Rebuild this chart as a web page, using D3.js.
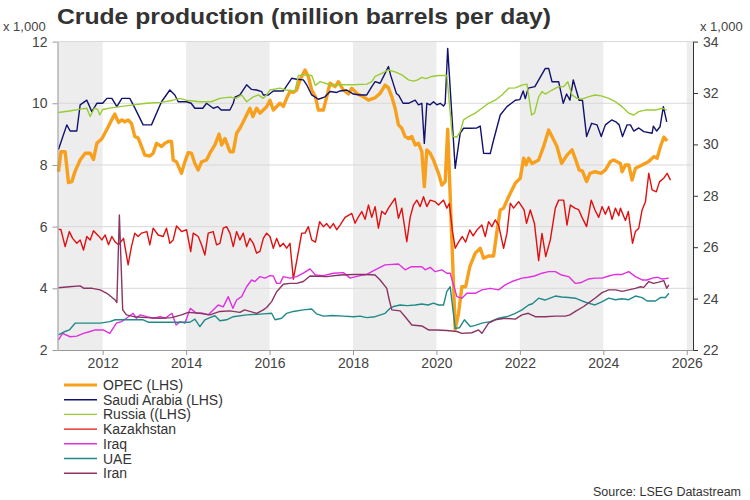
<!DOCTYPE html>
<html><head><meta charset="utf-8">
<script src="https://cdn.jsdelivr.net/npm/d3@7"></script>
<style>body{margin:0;background:#fff;}svg{font-family:"Liberation Sans",Arial,sans-serif;}</style>
</head><body><svg id="chart" width="750" height="500"></svg>
<script>
// ---- data: [decimal year, value (thousand barrels/day, LHS units)] ----
const opec = [[2010.94,7.78],[2011.0,8.43],[2011.1,8.43],[2011.18,7.43],[2011.26,7.46],[2011.34,7.8],[2011.46,8.16],[2011.58,8.38],[2011.7,8.38],[2011.78,8.18],[2011.86,8.7],[2011.98,8.85],[2012.1,9.15],[2012.2,9.42],[2012.29,9.65],[2012.38,9.38],[2012.46,9.46],[2012.53,9.4],[2012.61,9.46],[2012.69,9.35],[2012.77,8.92],[2012.85,8.88],[2012.93,8.6],[2013.01,8.32],[2013.13,8.29],[2013.21,8.38],[2013.29,8.7],[2013.41,8.6],[2013.49,8.7],[2013.57,8.76],[2013.65,8.76],[2013.69,8.16],[2013.77,8.1],[2013.89,7.73],[2013.97,8.1],[2014.05,8.4],[2014.13,8.38],[2014.21,8.05],[2014.29,7.84],[2014.37,8.1],[2014.49,8.16],[2014.57,8.38],[2014.69,8.65],[2014.79,9.0],[2014.85,8.65],[2014.93,8.86],[2015.05,8.43],[2015.13,8.43],[2015.21,9.03],[2015.29,9.19],[2015.37,9.4],[2015.45,9.62],[2015.53,9.84],[2015.6,9.57],[2015.69,9.84],[2015.77,9.68],[2015.85,9.78],[2015.93,9.89],[2016.01,10.1],[2016.09,9.78],[2016.25,10.0],[2016.33,9.9],[2016.41,10.16],[2016.49,10.38],[2016.57,10.35],[2016.65,10.43],[2016.73,10.76],[2016.85,11.08],[2016.93,10.86],[2017.01,10.43],[2017.1,10.21],[2017.17,9.78],[2017.29,9.78],[2017.37,10.21],[2017.45,10.65],[2017.57,10.54],[2017.65,10.7],[2017.77,10.43],[2017.89,10.3],[2017.97,10.49],[2018.09,10.32],[2018.25,10.21],[2018.37,10.1],[2018.53,10.18],[2018.65,10.32],[2018.77,10.59],[2018.85,10.5],[2018.93,10.21],[2019.01,9.84],[2019.09,9.3],[2019.17,9.19],[2019.25,8.92],[2019.33,8.86],[2019.41,8.92],[2019.49,8.65],[2019.57,8.7],[2019.65,8.43],[2019.71,7.3],[2019.77,8.49],[2019.85,8.38],[2019.93,8.16],[2020.05,7.73],[2020.13,7.35],[2020.21,7.46],[2020.27,9.16],[2020.45,2.67],[2020.53,3.19],[2020.61,4.05],[2020.7,4.05],[2020.8,4.7],[2020.93,5.14],[2021.05,5.3],[2021.13,4.98],[2021.25,5.05],[2021.37,5.05],[2021.45,5.84],[2021.53,6.54],[2021.61,6.6],[2021.73,6.97],[2021.89,7.41],[2022.01,7.57],[2022.09,8.22],[2022.15,8.0],[2022.21,8.22],[2022.29,8.05],[2022.37,8.1],[2022.45,8.16],[2022.57,8.6],[2022.69,9.13],[2022.77,8.92],[2022.89,8.6],[2023.0,8.05],[2023.13,8.32],[2023.25,8.49],[2023.33,8.2],[2023.42,7.84],[2023.5,7.8],[2023.6,7.46],[2023.68,7.73],[2023.8,7.78],[2023.95,7.73],[2024.05,7.84],[2024.17,8.11],[2024.25,8.16],[2024.41,8.05],[2024.45,7.78],[2024.53,8.0],[2024.61,8.0],[2024.69,7.51],[2024.77,7.89],[2024.93,8.0],[2025.09,8.11],[2025.21,8.27],[2025.29,8.22],[2025.37,8.6],[2025.45,8.9],[2025.53,8.78]];

const saudi = [[2010.94,8.5],[2011.14,9.3],[2011.22,9.1],[2011.38,9.1],[2011.46,9.95],[2011.62,10.1],[2011.74,9.73],[2011.86,10.0],[2012.0,10.0],[2012.1,10.16],[2012.22,10.16],[2012.34,9.89],[2012.46,10.16],[2012.65,10.16],[2012.77,9.85],[2012.97,9.3],[2013.17,9.3],[2013.41,10.05],[2013.61,10.43],[2013.73,10.27],[2013.81,10.05],[2014.01,10.05],[2014.12,10.0],[2014.21,9.84],[2014.4,9.84],[2014.49,10.0],[2014.65,9.84],[2014.76,9.89],[2014.84,9.78],[2015.05,9.78],[2015.13,10.0],[2015.17,10.2],[2015.29,10.27],[2015.45,10.6],[2015.57,10.45],[2015.69,10.43],[2015.81,10.38],[2015.85,10.27],[2015.97,10.27],[2016.09,10.4],[2016.33,10.4],[2016.53,10.81],[2016.65,10.78],[2016.81,10.76],[2016.89,10.6],[2017.01,10.27],[2017.17,10.13],[2017.33,10.21],[2017.45,10.38],[2017.61,10.35],[2017.69,10.4],[2017.85,10.43],[2018.01,10.3],[2018.17,10.27],[2018.33,10.27],[2018.45,10.54],[2018.53,10.7],[2018.65,10.65],[2018.85,11.19],[2018.9,10.92],[2019.04,10.32],[2019.1,10.25],[2019.2,10.0],[2019.33,10.0],[2019.49,10.1],[2019.57,9.95],[2019.65,10.0],[2019.71,8.7],[2019.77,10.0],[2019.85,9.95],[2019.93,10.05],[2020.01,9.95],[2020.09,10.0],[2020.17,9.91],[2020.21,10.0],[2020.27,11.78],[2020.45,7.89],[2020.57,9.03],[2020.65,9.19],[2020.81,9.19],[2020.97,9.2],[2021.05,9.26],[2021.13,8.38],[2021.29,8.37],[2021.37,8.81],[2021.53,9.62],[2021.69,9.89],[2021.89,10.1],[2022.0,10.12],[2022.08,10.4],[2022.13,10.15],[2022.2,10.49],[2022.36,10.54],[2022.61,11.13],[2022.69,11.13],[2022.77,10.7],[2022.93,10.7],[2023.04,10.0],[2023.12,10.3],[2023.2,10.1],[2023.28,10.76],[2023.36,10.38],[2023.42,10.1],[2023.5,10.1],[2023.6,8.92],[2023.72,9.35],[2023.85,9.3],[2023.95,8.92],[2024.05,9.3],[2024.2,9.46],[2024.3,9.4],[2024.38,9.3],[2024.46,8.92],[2024.57,9.3],[2024.65,9.3],[2024.73,9.1],[2024.85,9.2],[2024.97,9.08],[2025.17,9.03],[2025.2,9.26],[2025.28,9.1],[2025.36,9.24],[2025.44,9.89],[2025.52,9.4]];

const russia = [[2010.94,9.7],[2011.2,9.75],[2011.5,9.82],[2011.62,9.84],[2011.7,9.57],[2011.8,9.84],[2011.88,9.8],[2011.93,9.62],[2012.0,9.8],[2012.2,9.85],[2012.42,9.89],[2012.73,9.95],[2013.06,10.0],[2013.4,10.03],[2013.69,10.1],[2013.85,10.16],[2014.0,10.1],[2014.33,10.05],[2014.6,10.05],[2014.81,10.16],[2015.05,10.2],[2015.2,10.16],[2015.33,10.27],[2015.45,10.05],[2015.6,10.2],[2015.73,10.27],[2015.85,10.16],[2015.93,10.27],[2016.01,10.43],[2016.25,10.49],[2016.4,10.43],[2016.61,10.4],[2016.69,10.9],[2016.89,10.92],[2017.01,10.9],[2017.1,10.58],[2017.21,10.7],[2017.45,10.6],[2017.69,10.6],[2018.01,10.6],[2018.33,10.62],[2018.45,10.7],[2018.53,10.87],[2018.69,10.97],[2018.85,11.08],[2019.01,11.02],[2019.17,10.92],[2019.33,10.76],[2019.45,10.72],[2019.55,10.76],[2019.65,10.84],[2019.75,10.8],[2019.89,10.87],[2020.05,10.9],[2020.25,10.9],[2020.38,8.94],[2020.49,8.9],[2020.57,9.08],[2020.65,9.46],[2020.77,9.57],[2020.93,9.68],[2021.09,9.84],[2021.25,10.0],[2021.41,10.1],[2021.57,10.27],[2021.73,10.49],[2021.89,10.5],[2022.05,10.59],[2022.17,10.62],[2022.28,9.62],[2022.35,9.68],[2022.45,10.21],[2022.53,10.38],[2022.61,10.3],[2022.77,10.43],[2022.93,10.54],[2023.05,10.54],[2023.15,10.7],[2023.25,10.27],[2023.37,10.16],[2023.5,10.14],[2023.64,10.21],[2023.8,10.27],[2023.95,10.24],[2024.13,10.16],[2024.29,10.05],[2024.45,9.89],[2024.61,9.68],[2024.73,9.62],[2024.85,9.73],[2025.01,9.78],[2025.25,9.78],[2025.41,9.84],[2025.52,9.78]];

const kazakhstan = [[2010.94,5.92],[2011.0,5.9],[2011.1,5.35],[2011.2,5.84],[2011.28,5.62],[2011.38,5.46],[2011.46,5.57],[2011.54,5.24],[2011.62,5.68],[2011.7,5.57],[2011.78,5.87],[2011.9,5.7],[2011.98,5.57],[2012.06,5.73],[2012.14,5.41],[2012.22,5.68],[2012.3,5.5],[2012.38,5.41],[2012.5,5.62],[2012.61,4.76],[2012.69,5.35],[2012.77,5.79],[2012.85,5.68],[2012.93,5.79],[2013.06,5.84],[2013.13,5.41],[2013.21,5.95],[2013.33,5.73],[2013.45,5.68],[2013.53,5.95],[2013.61,5.46],[2013.69,5.57],[2013.77,6.02],[2013.89,5.84],[2014.01,5.9],[2014.11,5.19],[2014.17,5.79],[2014.29,5.68],[2014.37,5.41],[2014.45,5.08],[2014.53,5.79],[2014.65,5.84],[2014.73,5.41],[2014.81,5.46],[2014.89,5.95],[2014.97,6.0],[2015.05,5.79],[2015.13,5.35],[2015.21,5.84],[2015.29,5.57],[2015.37,5.79],[2015.45,5.35],[2015.53,5.62],[2015.61,5.46],[2015.69,5.14],[2015.77,5.2],[2015.85,5.62],[2015.93,5.79],[2016.01,5.68],[2016.09,5.3],[2016.17,5.62],[2016.25,5.35],[2016.33,5.46],[2016.41,5.3],[2016.49,5.46],[2016.57,4.3],[2016.67,5.03],[2016.77,5.79],[2016.85,5.79],[2016.93,6.0],[2017.01,5.57],[2017.1,5.5],[2017.2,6.16],[2017.29,6.0],[2017.37,6.1],[2017.45,5.95],[2017.53,6.1],[2017.61,5.9],[2017.69,6.05],[2017.81,6.3],[2017.97,6.43],[2018.05,6.11],[2018.13,6.32],[2018.21,6.49],[2018.29,6.24],[2018.37,6.7],[2018.45,6.3],[2018.53,6.65],[2018.61,5.95],[2018.69,6.5],[2018.77,6.4],[2018.85,6.6],[2018.93,6.76],[2019.01,6.92],[2019.09,6.27],[2019.17,6.6],[2019.29,5.51],[2019.37,6.3],[2019.45,6.7],[2019.53,6.86],[2019.61,6.65],[2019.69,6.97],[2019.77,6.65],[2019.85,6.86],[2019.97,6.81],[2020.05,6.7],[2020.17,6.86],[2020.25,6.6],[2020.31,6.75],[2020.38,5.89],[2020.45,5.3],[2020.53,5.5],[2020.62,5.68],[2020.7,5.5],[2020.8,5.89],[2020.88,5.7],[2020.97,5.89],[2021.09,6.05],[2021.17,5.68],[2021.25,6.16],[2021.33,6.0],[2021.41,6.22],[2021.49,6.05],[2021.61,5.3],[2021.69,5.78],[2021.77,6.76],[2021.85,6.6],[2021.97,6.81],[2022.05,6.65],[2022.1,6.54],[2022.16,6.11],[2022.25,6.54],[2022.35,6.1],[2022.45,4.9],[2022.53,5.78],[2022.62,5.03],[2022.73,5.57],[2022.85,6.6],[2022.93,6.86],[2023.05,6.86],[2023.13,6.05],[2023.21,6.7],[2023.33,6.59],[2023.41,6.55],[2023.49,6.3],[2023.6,6.0],[2023.71,6.86],[2023.8,6.54],[2023.89,6.3],[2023.97,6.65],[2024.05,6.4],[2024.13,6.65],[2024.21,6.24],[2024.29,6.6],[2024.37,6.35],[2024.41,6.6],[2024.53,6.2],[2024.6,6.49],[2024.7,5.46],[2024.77,5.84],[2024.85,5.95],[2024.93,6.54],[2025.01,6.81],[2025.09,7.73],[2025.17,7.19],[2025.27,7.13],[2025.35,7.46],[2025.45,7.57],[2025.53,7.73],[2025.61,7.51]];

const iraq = [[2010.94,2.33],[2011.04,2.54],[2011.22,2.43],[2011.38,2.45],[2011.54,2.54],[2011.7,2.6],[2011.82,2.65],[2012.01,2.65],[2012.17,2.54],[2012.33,2.87],[2012.45,2.92],[2012.57,3.03],[2012.73,3.19],[2012.81,3.03],[2012.9,3.14],[2013.06,3.08],[2013.22,3.03],[2013.38,3.08],[2013.5,3.03],[2013.66,3.19],[2013.76,2.81],[2013.86,2.92],[2013.97,2.87],[2014.1,3.35],[2014.25,3.19],[2014.41,3.19],[2014.53,3.14],[2014.65,3.3],[2014.77,3.46],[2014.89,3.4],[2015.01,3.73],[2015.12,3.35],[2015.21,3.62],[2015.33,3.73],[2015.45,4.05],[2015.57,4.27],[2015.65,4.22],[2015.77,4.38],[2015.89,4.33],[2016.01,4.41],[2016.09,4.4],[2016.17,4.16],[2016.25,4.16],[2016.33,4.38],[2016.49,4.33],[2016.65,4.38],[2016.81,4.49],[2016.97,4.63],[2017.1,4.43],[2017.29,4.41],[2017.53,4.49],[2017.77,4.51],[2017.93,4.33],[2018.17,4.41],[2018.33,4.45],[2018.53,4.6],[2018.77,4.76],[2019.09,4.79],[2019.25,4.6],[2019.4,4.7],[2019.65,4.7],[2019.73,4.6],[2019.85,4.68],[2019.97,4.54],[2020.13,4.6],[2020.25,4.49],[2020.33,4.49],[2020.49,3.73],[2020.61,3.68],[2020.73,3.84],[2020.93,3.84],[2021.09,3.95],[2021.29,4.0],[2021.49,3.95],[2021.65,4.11],[2021.81,4.22],[2022.05,4.33],[2022.2,4.36],[2022.35,4.4],[2022.53,4.49],[2022.69,4.54],[2022.85,4.54],[2023.0,4.43],[2023.17,4.38],[2023.33,4.16],[2023.45,4.18],[2023.64,4.3],[2023.8,4.33],[2023.97,4.33],[2024.13,4.4],[2024.29,4.45],[2024.45,4.45],[2024.61,4.54],[2024.77,4.38],[2024.93,4.27],[2025.05,4.27],[2025.17,4.33],[2025.3,4.36],[2025.41,4.3],[2025.57,4.33]];

const uae = [[2010.94,2.49],[2011.1,2.6],[2011.2,2.65],[2011.34,2.87],[2011.6,2.87],[2011.94,2.87],[2012.17,2.92],[2012.3,2.98],[2012.57,2.98],[2012.97,2.98],[2013.09,2.9],[2013.69,2.9],[2014.09,2.9],[2014.21,3.0],[2014.33,2.76],[2014.45,2.98],[2014.57,3.05],[2014.69,3.11],[2014.81,2.95],[2014.97,2.98],[2015.13,3.08],[2015.45,3.14],[2015.85,3.17],[2016.05,3.19],[2016.13,2.98],[2016.29,3.03],[2016.41,3.19],[2016.57,3.25],[2016.81,3.3],[2017.01,3.33],[2017.13,3.17],[2017.29,3.1],[2017.5,3.12],[2017.77,3.1],[2018.01,3.08],[2018.17,3.1],[2018.33,3.05],[2018.53,3.08],[2018.77,3.19],[2018.89,3.35],[2018.97,3.41],[2019.13,3.46],[2019.3,3.44],[2019.49,3.46],[2019.65,3.49],[2019.8,3.46],[2019.93,3.52],[2020.05,3.46],[2020.17,3.46],[2020.25,3.9],[2020.33,4.05],[2020.45,2.7],[2020.55,2.72],[2020.67,2.98],[2020.81,2.76],[2020.93,2.8],[2021.09,2.87],[2021.29,2.92],[2021.49,3.03],[2021.73,3.1],[2021.89,3.19],[2022.05,3.3],[2022.21,3.46],[2022.3,3.5],[2022.45,3.68],[2022.6,3.62],[2022.85,3.75],[2023.0,3.72],[2023.17,3.7],[2023.33,3.68],[2023.49,3.59],[2023.64,3.52],[2023.8,3.46],[2023.95,3.55],[2024.13,3.68],[2024.29,3.63],[2024.45,3.66],[2024.61,3.63],[2024.77,3.75],[2024.93,3.7],[2025.05,3.59],[2025.25,3.59],[2025.37,3.7],[2025.49,3.7],[2025.57,3.84]];

const iran = [[2010.94,4.02],[2011.2,4.05],[2011.46,4.08],[2011.55,4.0],[2011.75,4.0],[2011.94,3.95],[2012.1,3.84],[2012.3,3.62],[2012.34,3.54],[2012.4,6.38],[2012.48,3.3],[2012.57,3.14],[2012.75,3.08],[2013.06,3.05],[2013.38,3.03],[2013.65,3.05],[2013.89,3.14],[2014.05,3.22],[2014.33,3.19],[2014.57,3.14],[2014.81,3.25],[2015.05,3.27],[2015.29,3.22],[2015.4,3.3],[2015.69,3.19],[2015.85,3.3],[2015.93,3.38],[2016.05,3.57],[2016.17,3.89],[2016.33,4.13],[2016.49,4.16],[2016.65,4.16],[2016.81,4.22],[2016.97,4.4],[2017.37,4.38],[2017.69,4.43],[2018.01,4.45],[2018.33,4.45],[2018.53,4.43],[2018.65,4.27],[2018.81,4.0],[2018.87,3.62],[2018.93,3.3],[2019.13,3.27],[2019.25,3.08],[2019.41,2.81],[2019.65,2.78],[2019.81,2.65],[2020.01,2.65],[2020.25,2.63],[2020.49,2.6],[2020.61,2.54],[2020.85,2.56],[2021.01,2.65],[2021.09,2.54],[2021.25,2.87],[2021.41,2.98],[2021.65,3.03],[2021.89,3.0],[2022.05,3.14],[2022.2,3.19],[2022.37,3.08],[2022.6,3.08],[2022.85,3.1],[2023.09,3.1],[2023.2,3.14],[2023.33,3.25],[2023.53,3.41],[2023.64,3.52],[2023.8,3.68],[2023.97,3.86],[2024.13,3.95],[2024.3,3.95],[2024.45,3.9],[2024.61,3.95],[2024.77,4.0],[2024.89,4.05],[2024.97,4.03],[2025.09,4.22],[2025.2,4.16],[2025.33,4.2],[2025.45,4.25],[2025.52,4.0],[2025.57,4.11]];

const seriesNames = ["OPEC (LHS)", "Saudi Arabia (LHS)", "Russia ((LHS)", "Kazakhstan", "Iraq", "UAE", "Iran"];
const leftTicks = [2, 4, 6, 8, 10, 12];
const rightTicks = [22, 24, 26, 28, 30, 32, 34];
const yearTicks = [2012, 2014, 2016, 2018, 2020, 2022, 2024, 2026];
const shadedYears = [[2010.917, 2012], [2014, 2016], [2018, 2020], [2022, 2024], [2026, 2026.15]];
const titleText = "Crude production (million barrels per day)";
const unitText = "x 1,000";
const sourceText = "Source: LSEG Datastream";

// ---- styles ----
const seriesData = [opec, saudi, russia, kazakhstan, iraq, uae, iran];
const colors = ["#f7a01e", "#12126e", "#99cc33", "#e01010", "#e030e0", "#1f8a87", "#8a3464"];
const widths = [3.4, 1.4, 1.4, 1.4, 1.4, 1.4, 1.4];

const svg = d3.select("#chart");
const L = 57.5, R = 693, T = 41.6, B = 350;
const x = d3.scaleLinear().domain([2010.917, 2026.15]).range([L, R]);
const yL = d3.scaleLinear().domain([2, 12]).range([B, T]);
const yR = d3.scaleLinear().domain([22, 34]).range([B, T]);

// shaded bands
svg.append("g").selectAll("rect").data(shadedYears).join("rect")
  .attr("x", d => x(d[0])).attr("width", d => x(d[1]) - x(d[0]))
  .attr("y", T).attr("height", B - T).attr("fill", "#ededed");

// gridlines
svg.append("g").selectAll("line").data(leftTicks.slice(1)).join("line")
  .attr("x1", L).attr("x2", R).attr("y1", d => yL(d)).attr("y2", d => yL(d))
  .attr("stroke", "#d9d9d9").attr("stroke-width", 1);

// lines
const line = d3.line().x(d => x(d[0])).y(d => yL(d[1]));
svg.append("g").selectAll("path").data(seriesData).join("path")
  .attr("d", line).attr("fill", "none")
  .attr("stroke", (d, i) => colors[i]).attr("stroke-width", (d, i) => widths[i])
  .attr("stroke-linejoin", "round");

// axes
function styleAxis(g, domainColor) {
  g.select(".domain").attr("stroke", domainColor);
  g.selectAll(".tick line").attr("stroke", domainColor);
  g.selectAll(".tick text").attr("fill", "#444").attr("font-size", 14)
    .attr("font-family", "'Liberation Sans', Arial, sans-serif");
}
svg.append("g").attr("transform", `translate(${L},0)`)
  .call(d3.axisLeft(yL).tickValues(leftTicks).tickSize(5).tickSizeOuter(0).tickPadding(5))
  .call(g => styleAxis(g, "#999"));
svg.append("g").attr("transform", `translate(${R},0)`)
  .call(d3.axisRight(yR).tickValues(rightTicks).tickSize(5).tickSizeOuter(0).tickPadding(5))
  .call(g => styleAxis(g, "#333"));
svg.append("g").attr("transform", `translate(0,${B})`)
  .call(d3.axisBottom(x).tickValues(yearTicks).tickFormat(d3.format("d")).tickSize(5).tickSizeOuter(0).tickPadding(3))
  .call(g => styleAxis(g, "#999"));

// title and unit labels
svg.append("text").attr("x", 57).attr("y", 24).text(titleText)
  .attr("font-size", 22).attr("font-weight", "bold").attr("fill", "#333")
  .attr("textLength", 494).attr("lengthAdjust", "spacingAndGlyphs");
svg.append("text").attr("x", 3).attr("y", 31).text(unitText).attr("font-size", 13).attr("fill", "#444");
svg.append("text").attr("x", 700).attr("y", 31).text(unitText).attr("font-size", 13).attr("fill", "#444");

// legend
const lg = svg.append("g").selectAll("g").data(seriesNames).join("g")
  .attr("transform", (d, i) => `translate(64,${385 + i * 14.7})`);
lg.append("line").attr("x1", 0).attr("x2", 33)
  .attr("stroke", (d, i) => colors[i]).attr("stroke-width", (d, i) => i === 0 ? 3 : 1.4);
lg.append("text").attr("x", 39).attr("dy", "0.36em").text(d => d)
  .attr("font-size", 14).attr("fill", "#333");

// source
svg.append("text").attr("x", 741).attr("y", 496).attr("text-anchor", "end")
  .text(sourceText).attr("font-size", 12.5).attr("fill", "#333");
</script></body></html>
